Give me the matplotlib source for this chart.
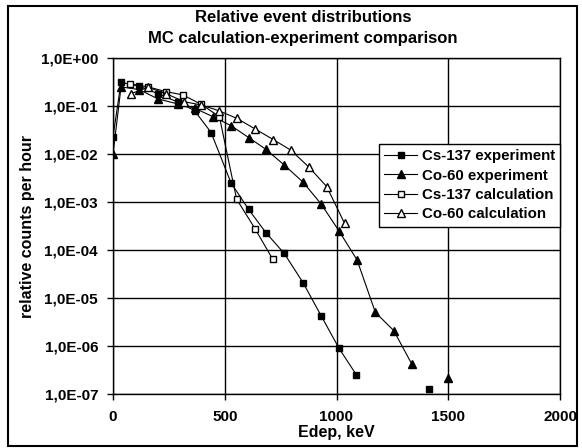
import numpy as np
import matplotlib
matplotlib.use("Agg")
from matplotlib import pyplot as plt
from matplotlib.patches import Rectangle
from matplotlib.ticker import FuncFormatter, FixedLocator

plt.rcParams['font.family'] = ['Liberation Sans', 'DejaVu Sans']
plt.rcParams['font.weight'] = 'bold'

# Energia depositada (keV) e contagens relativas por hora
cs_exp_x = [0, 36, 117, 202, 291, 365, 439, 528, 607, 684, 766, 850, 932, 1011, 1089, 1250, 1414]
cs_exp_y = [2.3e-2, 0.31, 0.26, 0.18, 0.12, 0.08, 0.028, 2.5e-3, 7.0e-4, 2.3e-4, 8.5e-5,
            2.1e-5, 4.2e-6, 9.0e-7, 2.5e-7, np.nan, 1.25e-7]

co_exp_x = [0, 36, 117, 202, 291, 365, 447, 528, 607, 684, 766, 850, 932, 1011, 1092, 1174, 1256, 1337, 1420, 1500]
co_exp_y = [1.0e-2, 0.25, 0.22, 0.14, 0.11, 0.09, 0.06, 0.039, 0.022, 0.0125, 0.0059,
            0.0026, 9.0e-4, 2.5e-4, 6.2e-5, 5.0e-6, 2.1e-6, 4.2e-7, np.nan, 2.2e-7]

cs_calc_x = [76, 157, 236, 313, 395, 476, 553, 635, 714]
cs_calc_y = [0.29, 0.25, 0.20, 0.17, 0.108, 0.06, 1.15e-3, 2.8e-4, 6.5e-5]

co_calc_x = [79, 157, 239, 318, 395, 473, 555, 637, 717, 796, 877, 956, 1036]
co_calc_y = [0.18, 0.245, 0.18, 0.123, 0.105, 0.08, 0.055, 0.033, 0.020, 0.012, 0.0053, 0.0021, 3.6e-4]

x_ticks = [0, 500, 1000, 1500, 2000]
y_ticks = [1e0, 1e-1, 1e-2, 1e-3, 1e-4, 1e-5, 1e-6, 1e-7]


def fmt_exp(v, pos):
    e = int(round(np.log10(v)))
    sinal = '+' if e >= 0 else '-'
    return f"1,0E{sinal}{abs(e):02d}"


fig = plt.figure(figsize=(5.82, 4.48), dpi=100)
ax = fig.add_axes([113 / 582, 1 - 394 / 448, (560 - 113) / 582, (394 - 58) / 448])

ax.plot(cs_exp_x, cs_exp_y, color='black', lw=0.8, marker='s', ms=5, mfc='black', mec='black',
        label='Cs-137 experiment', zorder=3)
ax.plot(co_exp_x, co_exp_y, color='black', lw=0.8, marker='^', ms=6, mfc='black', mec='black',
        label='Co-60 experiment', zorder=3)
ax.plot(cs_calc_x, cs_calc_y, color='black', lw=0.8, marker='s', ms=5, mfc='white', mec='black',
        label='Cs-137 calculation', zorder=4)
ax.plot(co_calc_x, co_calc_y, color='black', lw=0.8, marker='^', ms=6, mfc='white', mec='black',
        label='Co-60 calculation', zorder=4)

ax.set_yscale('log')
ax.set_xlim(0, 2000)
ax.set_ylim(1e-7, 1e0)
ax.xaxis.set_major_locator(FixedLocator(x_ticks))
ax.yaxis.set_major_locator(FixedLocator(y_ticks))
ax.yaxis.set_minor_locator(FixedLocator([]))
ax.yaxis.set_major_formatter(FuncFormatter(fmt_exp))
ax.grid(True, color='black', lw=1)
ax.tick_params(axis='both', labelsize=11, length=4.3, width=1, color='black', direction='out')
ax.tick_params(axis='y', pad=6.5)
ax.tick_params(axis='x', pad=7)
for s in ax.spines.values():
    s.set_linewidth(1)

ax.set_xlabel('Edep, keV', fontsize=11.5, fontweight='bold', labelpad=1)
ax.set_ylabel('relative counts per hour', fontsize=11.5, fontweight='bold', labelpad=4)
fig.text(303 / 582, 1 - 17 / 448, 'Relative event distributions', ha='center', va='center',
         fontsize=12, fontweight='bold')
fig.text(303 / 582, 1 - 39 / 448, 'MC calculation-experiment comparison', ha='center', va='center',
         fontsize=12, fontweight='bold')

leg = ax.legend(loc='upper right', bbox_to_anchor=(1.0, 0.744), fontsize=10.8, frameon=True,
                fancybox=False, edgecolor='black', framealpha=1, borderpad=0.35,
                labelspacing=0.36, handlelength=2.2, handletextpad=0.3, borderaxespad=0)
leg.get_frame().set_linewidth(1)

fig.patches.append(Rectangle((8 / 582, 2 / 448), 569 / 582, 440 / 448, transform=fig.transFigure,
                             fill=False, edgecolor='black', lw=1.5))

fig.savefig('out.png', dpi=100)
